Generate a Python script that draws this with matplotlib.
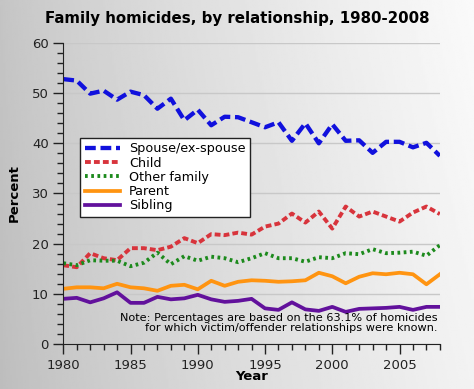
import numpy as np
import matplotlib
matplotlib.use("Agg")
import matplotlib.pyplot as plt
from matplotlib.ticker import MultipleLocator

years = np.arange(1980, 2009)

spouse = [52.8, 52.5, 49.9, 50.5, 48.7, 50.3, 49.6, 46.9, 48.9, 44.6,
          46.7, 43.6, 45.3, 45.2, 44.2, 43.2, 44.2, 40.5, 44.0, 40.0,
          43.8, 40.5, 40.6, 38.1, 40.3, 40.3, 39.2, 40.1, 37.5]
child = [15.7, 15.3, 18.1, 17.1, 16.7, 19.1, 19.1, 18.7, 19.4, 21.1,
         20.1, 21.9, 21.7, 22.2, 21.8, 23.4, 24.0, 26.0, 24.2, 26.4,
         23.0, 27.4, 25.4, 26.4, 25.4, 24.4, 26.2, 27.4, 25.9]
other_family = [16.1, 15.7, 16.7, 16.6, 16.6, 15.5, 16.2, 18.2, 15.9, 17.5,
                16.6, 17.4, 17.1, 16.3, 17.1, 18.1, 17.1, 17.1, 16.4, 17.3,
                17.1, 18.1, 17.9, 18.9, 18.1, 18.2, 18.4, 17.6, 19.7]
parent = [11.0, 11.3, 11.3, 11.1, 12.0, 11.3, 11.1, 10.6, 11.6, 11.8,
          10.9, 12.6, 11.6, 12.4, 12.7, 12.6, 12.4, 12.5, 12.7, 14.2,
          13.5, 12.1, 13.4, 14.1, 13.9, 14.2, 13.9, 11.9, 13.9]
sibling = [9.0, 9.2, 8.3, 9.1, 10.3, 8.2, 8.2, 9.4, 8.9, 9.1,
           9.8, 8.9, 8.4, 8.6, 9.0, 7.1, 6.8, 8.3, 6.9, 6.6,
           7.4, 6.4, 7.0, 7.1, 7.2, 7.4, 6.8, 7.4, 7.4]

fig = plt.figure(figsize=(4.74, 3.89), dpi=100)

# gradient background (grey on the left, near white on the right)
bg = fig.add_axes([0, 0, 1, 1], zorder=-1)
gx = np.linspace(0, 1, 256)
gy = np.linspace(0, 1, 256)
GX, GY = np.meshgrid(gx, gy)
shade = 0.77 + 0.21 * GX ** 0.8 - 0.03 * GY
bg.imshow(shade, cmap="gray", vmin=0, vmax=1, aspect="auto", extent=[0, 1, 0, 1])
bg.axis("off")

ax = fig.add_axes([0.1335, 0.1157, 0.7945, 0.7738])
ax.patch.set_alpha(0)

ax.plot(years, spouse, color="#1111dd", lw=3.1, ls=(0, (2.5, 1.1)), label="Spouse/ex-spouse")
ax.plot(years, child, color="#d8343c", lw=2.8, ls=(0, (1.5, 0.8)), label="Child")
ax.plot(years, other_family, color="#1c8a1c", lw=2.8, ls=(0, (0.7, 0.9)), label="Other family")
ax.plot(years, parent, color="#ff9411", lw=2.7, label="Parent")
ax.plot(years, sibling, color="#62119c", lw=2.7, label="Sibling")

ax.set_xlim(1980, 2008)
ax.set_ylim(0, 60)
ax.xaxis.set_major_locator(MultipleLocator(5))
ax.xaxis.set_minor_locator(MultipleLocator(1))
ax.yaxis.set_major_locator(MultipleLocator(10))
ax.yaxis.set_minor_locator(MultipleLocator(2))
ax.tick_params(which="major", length=7, width=1, labelsize=9.5, colors="#222222")
ax.tick_params(which="minor", length=4.5, width=1, colors="#222222")
for s in ["top", "right"]:
    ax.spines[s].set_visible(False)
for s in ["left", "bottom"]:
    ax.spines[s].set_color("#222222")
ax.yaxis.grid(True, color="#c8c8c8", lw=1)
ax.set_axisbelow(True)

fig.text(0.5, 0.953, "Family homicides, by relationship, 1980-2008", fontsize=10.8,
         fontweight="bold", ha="center", va="center")
ax.set_xlabel("Year", fontsize=9.5, fontweight="bold", labelpad=-1)
ax.set_ylabel("Percent", fontsize=9.5, fontweight="bold", labelpad=8)

leg = ax.legend(loc="upper left", bbox_to_anchor=(0.045, 0.685), fontsize=9.2,
                frameon=True, fancybox=False, handlelength=2.8, borderpad=0.35,
                labelspacing=0.1, handletextpad=0.65, borderaxespad=0)
leg.get_frame().set_edgecolor("#222222")
leg.get_frame().set_linewidth(1)
leg.get_frame().set_alpha(1)

ax.text(0.995, 0.035, "Note: Percentages are based on the 63.1% of homicides\n"
        "for which victim/offender relationships were known.",
        transform=ax.transAxes, ha="right", va="bottom", multialignment="right",
        fontsize=8.1, linespacing=1.0)

fig.savefig("out.png", dpi=100)
